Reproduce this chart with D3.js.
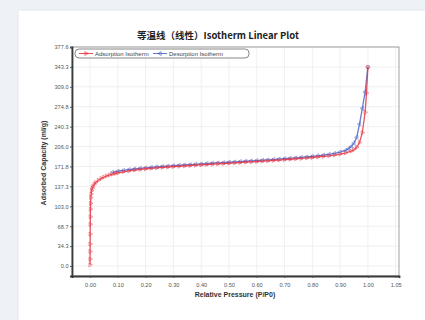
<!DOCTYPE html>
<html><head><meta charset="utf-8">
<script src="https://cdn.jsdelivr.net/npm/d3@7"></script>
<style>
html,body{margin:0;padding:0;background:#eef2f6;}
svg{display:block;}
</style></head>
<body>
<svg id="c" width="425" height="320"></svg>
<script>
const titleText = "等温线（线性）Isotherm Linear Plot";
const xLabel = "Relative Pressure (P/P0)";
const yLabel = "Adsorbed Capacity (ml/g)";
const seriesNames = ["Adsorption Isotherm", "Desorption Isotherm"];

const xTickValues = [0, 0.1, 0.2, 0.3, 0.4, 0.5, 0.6, 0.7, 0.8, 0.9, 1.0, 1.1];
const xTickLabels = ["0.00","0.10","0.20","0.30","0.40","0.50","0.60","0.70","0.80","0.90","1.00","1.05"];
const yTickValues = [0, 34.33, 68.65, 102.98, 137.31, 171.64, 205.96, 240.29, 274.62, 308.95, 343.27, 377.6];
const yTickLabels = ["0.0","34.3","68.7","103.0","137.3","171.8","206.0","240.3","274.8","309.0","343.3","377.6"];

const adsP = [0.0, 0.0001, 0.0002, 0.0003, 0.0005, 0.0008, 0.001, 0.0015, 0.002, 0.003, 0.004, 0.006, 0.008, 0.01, 0.015, 0.02, 0.03, 0.04, 0.05, 0.06, 0.07, 0.08, 0.09, 0.10, 0.12, 0.14, 0.16, 0.18, 0.20, 0.22, 0.24, 0.26, 0.28, 0.30, 0.32, 0.34, 0.36, 0.38, 0.40, 0.42, 0.44, 0.46, 0.48, 0.50, 0.52, 0.54, 0.56, 0.58, 0.60, 0.62, 0.64, 0.66, 0.68, 0.70, 0.72, 0.74, 0.76, 0.78, 0.80, 0.82, 0.84, 0.86, 0.88, 0.90, 0.92, 0.94, 0.95, 0.96, 0.97, 0.98, 0.99, 0.995, 1.0];
const adsV = [2, 12, 25, 38, 55, 72, 85, 98, 108, 118, 124, 130, 134, 137, 141, 144, 148, 151, 153.5, 155.5, 157, 158.5, 159.5, 160.5, 162.5, 164, 165.3, 166.5, 167.5, 168.4, 169.2, 170, 170.7, 171.4, 172, 172.6, 173.2, 173.8, 174.4, 175, 175.6, 176.2, 176.7, 177.2, 177.8, 178.4, 179, 179.6, 180.2, 180.8, 181.4, 182, 182.7, 183.4, 184.1, 184.8, 185.5, 186.3, 187.1, 188, 189, 190, 191.3, 192.8, 195, 198, 201, 205, 213, 230, 265, 298, 343];

const desP = [1.0, 0.99, 0.98, 0.97, 0.96, 0.95, 0.94, 0.93, 0.92, 0.90, 0.88, 0.86, 0.84, 0.82, 0.80, 0.78, 0.76, 0.74, 0.72, 0.70, 0.68, 0.66, 0.64, 0.62, 0.60, 0.58, 0.56, 0.54, 0.52, 0.50, 0.48, 0.46, 0.44, 0.42, 0.40, 0.38, 0.36, 0.34, 0.32, 0.30, 0.28, 0.26, 0.24, 0.22, 0.20, 0.18, 0.16, 0.14, 0.12, 0.10, 0.08];
const desV = [343, 300, 272, 245, 222, 212, 206, 202, 199.5, 196.5, 194.3, 192.6, 191.2, 190, 189, 188, 187.2, 186.4, 185.7, 185, 184.3, 183.6, 183, 182.4, 181.8, 181.2, 180.6, 180, 179.4, 178.9, 178.3, 177.8, 177.2, 176.6, 176, 175.4, 174.8, 174.2, 173.6, 173, 172.3, 171.6, 170.9, 170.1, 169.2, 168.3, 167.3, 166.2, 164.9, 163.4, 161.6];

const colors = ["#e8353f", "#4a63c8"];

const svg = d3.select("#c");
// card
svg.append("rect").attr("x",18).attr("y",10).attr("width",420).attr("height",330)
  .attr("fill","#ffffff").attr("stroke","#e4e8ee").attr("stroke-width",1);

const L = 72, R = 399, T = 47, B = 276;
const x = d3.scaleLinear().domain([-0.065, 1.112]).range([L, R]);
const y = d3.scaleLinear().domain([-17.2, 377.6]).range([B, T]);

// grid
const g = svg.append("g");
g.selectAll("line.vg").data(xTickValues).enter().append("line")
  .attr("x1", d=>x(d)).attr("x2", d=>x(d)).attr("y1", T).attr("y2", B)
  .attr("stroke", "#eef0f3").attr("stroke-width", 1);
g.selectAll("line.hg").data(yTickValues).enter().append("line")
  .attr("x1", L).attr("x2", R).attr("y1", d=>y(d)).attr("y2", d=>y(d))
  .attr("stroke", "#f3eef0").attr("stroke-width", 1);

// frame
svg.append("rect").attr("x",L).attr("y",T).attr("width",R-L).attr("height",B-T)
  .attr("fill","none").attr("stroke","#8a8a8a").attr("stroke-width",0.8);

// axes
const xAxis = d3.axisBottom(x).tickValues(xTickValues).tickSize(2).tickPadding(5)
  .tickFormat((d,i)=>xTickLabels[i]);
const yAxis = d3.axisLeft(y).tickValues(yTickValues).tickSize(2).tickPadding(1.5)
  .tickFormat((d,i)=>yTickLabels[i]);

const gx = svg.append("g").attr("transform",`translate(0,${B})`).call(xAxis);
const gy = svg.append("g").attr("transform",`translate(${L},0)`).call(yAxis);
[gx, gy].forEach(a=>{
  a.select(".domain").attr("stroke","#3a3a3a").attr("stroke-width",1.8);
  a.selectAll(".tick line").attr("stroke","#555");
  a.selectAll(".tick text").attr("fill","#555").style("font-family","Liberation Sans, Arial, sans-serif").style("font-size","5.6px");
});

// lines
const line = d3.line().x(d=>x(d[0])).y(d=>y(d[1]));
const adsData = adsP.map((p,i)=>[p, adsV[i]]);
const desData = desP.map((p,i)=>[p, desV[i]]);
const tri = d3.symbol().type(d3.symbolTriangle).size(7);

function drawSeries(data, color, rot) {
  svg.append("path").datum(data).attr("d", line).attr("fill","none")
    .attr("stroke", color).attr("stroke-width", 1.3).attr("stroke-opacity",0.85);
  svg.append("g").selectAll("path").data(data).enter().append("path")
    .attr("d", tri)
    .attr("transform", d=>`translate(${x(d[0])},${y(d[1])}) rotate(${rot})`)
    .attr("fill","none").attr("stroke", color).attr("stroke-width",0.6).attr("stroke-opacity",0.8);
}
drawSeries(desData, colors[1], -90);
drawSeries(adsData, colors[0], 90);

// legend
const lg = svg.append("g");
lg.append("rect").attr("x",75).attr("y",49).attr("width",174).attr("height",9).attr("rx",4)
  .attr("fill","#fff").attr("stroke","#555").attr("stroke-width",0.7);
const items = [{x:79, c:colors[0], rot:90, t:seriesNames[0]}, {x:153, c:colors[1], rot:-90, t:seriesNames[1]}];
items.forEach(it=>{
  lg.append("line").attr("x1",it.x).attr("x2",it.x+14).attr("y1",53.5).attr("y2",53.5)
    .attr("stroke",it.c).attr("stroke-width",0.9);
  lg.append("path").attr("d", tri).attr("transform",`translate(${it.x+7},53.5) rotate(${it.rot})`)
    .attr("fill","none").attr("stroke",it.c).attr("stroke-width",0.6);
  lg.append("text").attr("x",it.x+16).attr("y",55.5).text(it.t)
    .attr("fill","#444").style("font-family","Liberation Sans, Arial, sans-serif").style("font-size","6px");
});

// title
svg.append("text").attr("x",218).attr("y",39).attr("text-anchor","middle").text(titleText)
  .attr("fill","#222").style("font-family","'Noto Sans CJK SC', 'Noto Sans', sans-serif")
  .style("font-size","9.5px").style("font-weight","bold");

// axis labels
svg.append("text").attr("x",235).attr("y",297).attr("text-anchor","middle").text(xLabel)
  .attr("fill","#333").style("font-family","Liberation Sans, Arial, sans-serif")
  .style("font-size","7px").style("font-weight","bold");
svg.append("text").attr("transform","translate(46,163) rotate(-90)").attr("text-anchor","middle").text(yLabel)
  .attr("fill","#333").style("font-family","Liberation Sans, Arial, sans-serif")
  .style("font-size","7px").style("font-weight","bold");
</script>
</body></html>
